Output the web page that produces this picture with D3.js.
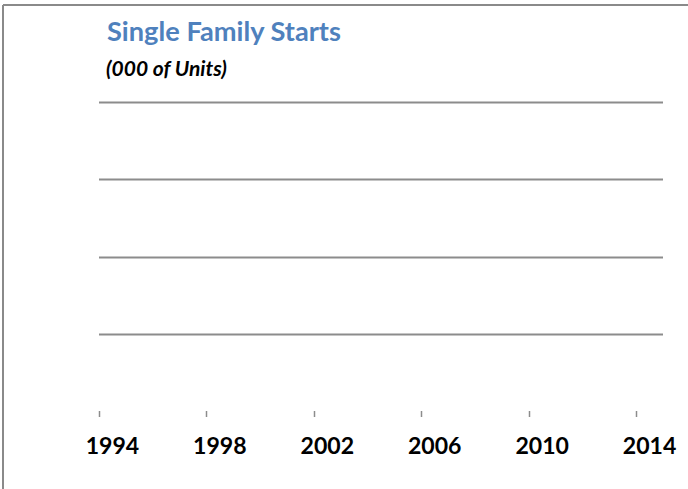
<!DOCTYPE html>
<html>
<head>
<meta charset="utf-8">
<script src="https://cdn.jsdelivr.net/npm/d3@7"></script>
<style>
  html, body { margin: 0; padding: 0; background: #fff; }
  svg { display: block; }
</style>
</head>
<body>
<div id="chart"></div>
<script>
// ---- data ----
const titleText = "Single Family Starts";
const subtitleText = "(000 of Units)";
const years = [1994, 1995, 1996, 1997, 1998, 1999, 2000, 2001, 2002, 2003, 2004,
               2005, 2006, 2007, 2008, 2009, 2010, 2011, 2012, 2013, 2014];
const tickYears = [1994, 1998, 2002, 2006, 2010, 2014];
const gridValues = [500, 1000, 1500, 2000];
// The reference shows no plotted marks for the series.
const starts = [];

// ---- layout ----
const W = 688, H = 489;
const FONT = "Lato, 'Open Sans', sans-serif";
const svg = d3.select("#chart").append("svg").attr("width", W).attr("height", H);

// outer frame (only top and left edges visible)
svg.append("line").attr("x1", 3).attr("x2", W).attr("y1", 5).attr("y2", 5)
  .attr("stroke", "#8a8a8a").attr("stroke-width", 2);
svg.append("line").attr("x1", 3).attr("x2", 3).attr("y1", 5).attr("y2", H)
  .attr("stroke", "#8a8a8a").attr("stroke-width", 2);

const x = d3.scaleBand().domain(years).range([99, 663]).padding(0);
const y = d3.scaleLinear().domain([0, 2000]).range([411, 102]);

// gridlines
svg.append("g").selectAll("line").data(gridValues).join("line")
  .attr("x1", 99).attr("x2", 663)
  .attr("y1", d => Math.round(y(d)) + 0.5).attr("y2", d => Math.round(y(d)) + 0.5)
  .attr("stroke", "#8c8c8c").attr("stroke-width", 2);

// bars (none visible)
svg.append("g").selectAll("rect").data(starts).join("rect")
  .attr("x", (d, i) => x(years[i])).attr("width", x.bandwidth())
  .attr("y", d => y(d)).attr("height", d => y(0) - y(d))
  .attr("fill", "#4F81BD");

// x axis ticks at band boundaries, labels at band centres
const axisG = svg.append("g");
axisG.selectAll("line").data(tickYears).join("line")
  .attr("x1", d => Math.round(x(d)) + 0.5).attr("x2", d => Math.round(x(d)) + 0.5)
  .attr("y1", 411).attr("y2", 417)
  .attr("stroke", "#8c8c8c").attr("stroke-width", 1.5);

function fitText(sel, targetW, baseSize) {
  sel.attr("font-size", baseSize);
  const w = sel.node().getComputedTextLength();
  sel.attr("font-size", (baseSize * targetW / w).toFixed(2));
}

const labels = axisG.selectAll("text").data(tickYears).join("text")
  .attr("x", d => x(d) + x.bandwidth() / 2)
  .attr("y", 454)
  .attr("text-anchor", "middle")
  .attr("font-family", FONT)
  .attr("font-weight", "bold")
  .attr("fill", "#000")
  .text(d => d);
{
  labels.attr("font-size", 20);
  const w = labels.node().getComputedTextLength();
  labels.attr("font-size", (20 * 53.5 / w).toFixed(2));
}

// titles
const title = svg.append("text")
  .attr("x", 107).attr("y", 41)
  .attr("font-family", FONT)
  .attr("font-weight", "bold")
  .attr("fill", "#4F81BD")
  .text(titleText);
fitText(title, 234, 20);

const sub = svg.append("text")
  .attr("x", 106).attr("y", 76)
  .attr("font-family", FONT)
  .attr("font-weight", "bold")
  .attr("font-style", "italic")
  .attr("fill", "#000")
  .text(subtitleText);
fitText(sub, 121, 15);
</script>
</body>
</html>
